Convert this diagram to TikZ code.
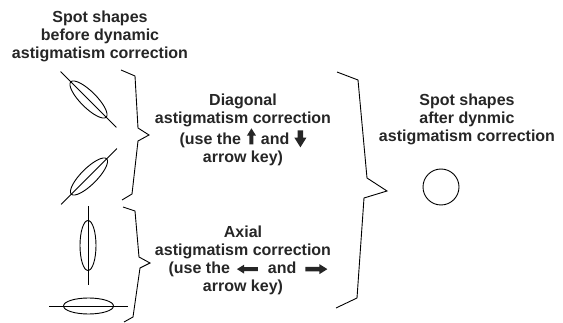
\documentclass[tikz,border=0pt]{standalone}
\usepackage{fontspec}
\setmainfont{Liberation Sans}
\def\spotlen{39.5}
\def\spotmaj{25}
\def\spotmin{8}
% black key arrow: #1 angle, #2 length, #3 half width of the head, #4 height of its middle above the baseline
\newcommand\keyarrow[4]{\tikz[baseline=-#4pt]\fill[rotate=#1]
	({-#2*0.5pt},{-#3*0.45pt}) -- ({#2*0.5pt-#3*1.6pt},{-#3*0.45pt}) -- ({#2*0.5pt-#3*1.6pt},{-#3*1pt}) -- ({#2*0.5pt},0pt)
	-- ({#2*0.5pt-#3*1.6pt},{#3*1pt}) -- ({#2*0.5pt-#3*1.6pt},{#3*0.45pt}) -- ({-#2*0.5pt},{#3*0.45pt}) -- cycle;}

\begin{document}
\begin{tikzpicture}[x=1pt, y=-1pt, line width=0.9pt,
		txt/.style={align=center, inner sep=0, text=black!85, font=\fontsize{16}{18}\selectfont\bfseries},
		spotbox/.style={draw, circle, minimum size=36pt, inner sep=0}]
	\useasboundingbox (0,0) rectangle (563,323);
	% spot shapes before correction
	\foreach \cx/\cy/\ang in {88.5/99.5/-45, 89/176.5/45, 88/245.5/90, 88.5/306/0}{
		\begin{scope}[shift={(\cx,\cy)}, rotate=\ang]
			\draw (0,0) ellipse ({\spotmaj pt} and {\spotmin pt});
			\draw (-\spotlen,0) -- (\spotlen,0);
		\end{scope}
	}
	% texts
	\node[txt] (before) at (100,36) {Spot shapes\\before dynamic\\astigmatism correction};
	\node[txt] (diag) at (243,130) {Diagonal\\astigmatism correction\\(use the\hspace{6pt}\keyarrow{90}{16}{4.5}{8}\hspace{5pt}and\hspace{5pt}\keyarrow{-90}{17}{6}{5.5}\\arrow key)};
	\node[txt] (axial) at (243,260) {Axial\\astigmatism correction\\\hspace*{10pt}(use the\hspace{7pt}\keyarrow{180}{21}{4.5}{4}\hspace{10pt}and\hspace{9pt}\keyarrow{0}{22}{5}{4}\\arrow key)};
	\node[txt] (after) at (467,119) {Spot shapes\\after dynmic\\astigmatism correction};
	\node[spotbox] (spot) at (441,187) {};
	% braces
	\draw (121,70) -- (135,76) -- (138,128) -- (149,135) -- (138,141) -- (132,194) -- (122,200);
	\draw (123,207) -- (135,211) -- (139,257) -- (150,263) -- (140,268) -- (133,317) -- (124,322);
	\draw (337,72) -- (358,80) -- (367,178) -- (387,191) -- (364,198) -- (357,298) -- (336,308);
\end{tikzpicture}
\end{document}
